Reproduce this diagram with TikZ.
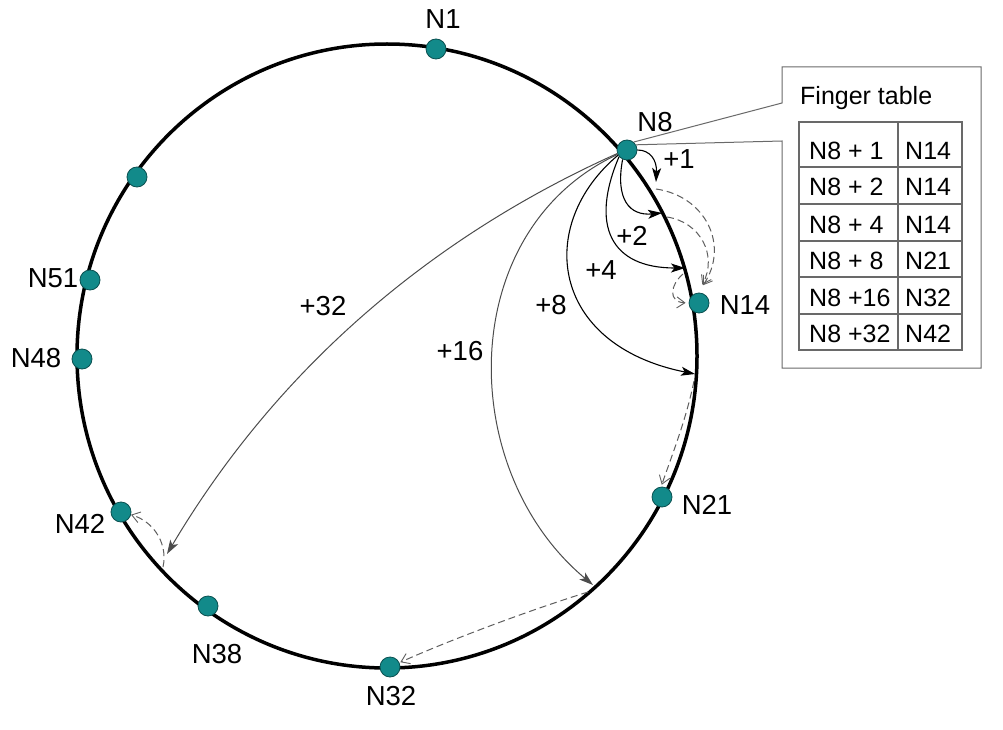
\documentclass[tikz,border=0pt]{standalone}
\usepackage{fontspec}
\setmainfont{Liberation Sans}
\usetikzlibrary{arrows.meta}
\definecolor{dotfill}{RGB}{18,138,138}
\definecolor{dotline}{RGB}{10,80,80}
\definecolor{dashgray}{RGB}{95,95,95}
\definecolor{boxgray}{RGB}{105,105,105}
\begin{document}
\begin{tikzpicture}[x=1pt,y=-1pt,
  ring/.style={line width=3.5pt},
  peer/.style={circle,fill=dotfill,draw=dotline,line width=0.8pt,minimum size=20pt,inner sep=0pt},
  lbl/.style={font=\fontsize{27.5}{30}\selectfont,inner sep=0pt},
  cell/.style={font=\fontsize{25}{28}\selectfont,inner sep=0pt,anchor=base west},
  fing/.style={line width=1.1pt,-{Stealth[length=14pt,width=9pt,inset=3.5pt]}},
  fingfar/.style={fing,draw=black!70,line width=1pt},
  succ/.style={draw=dashgray,line width=1pt,dash pattern=on 7pt off 4pt,-{Straight Barb[length=8pt,width=11pt,line width=0.9pt]}},
  callout/.style={draw=boxgray,line width=1pt},
  tbl/.style={draw=boxgray,line width=1.1pt}
]
\useasboundingbox (0,0) rectangle (1003,730);
\fill[white] (0,0) rectangle (1003,730);

% ring
\draw[ring] (387,356) ellipse [x radius=310pt, y radius=312pt];

% peers
\node[peer] (N1) at (436,49) {};
\node[peer] (N56) at (137,177) {};
\node[peer] (N51) at (90,280) {};
\node[peer] (N48) at (82,359) {};
\node[peer] (N42) at (121,512) {};
\node[peer] (N38) at (208,606) {};
\node[peer] (N32) at (390,667) {};
\node[peer] (N21) at (662,497) {};
\node[peer] (N14) at (699,303) {};
\node[peer] (N8) at (627,150) {};

% peer labels
\node[lbl] (lN1) at (443,19) {N1};
\node[lbl] (lN8) at (655,122) {N8};
\node[lbl] (lN14) at (745,305) {N14};
\node[lbl] (lN21) at (707,505) {N21};
\node[lbl] (lN32) at (391,696) {N32};
\node[lbl] (lN38) at (217,654) {N38};
\node[lbl] (lN42) at (80,524) {N42};
\node[lbl] (lN48) at (36,358) {N48};
\node[lbl] (lN51) at (53,278) {N51};

% positions on the ring
\coordinate (p1) at (656,182);
\coordinate (p2) at (662,213);
\coordinate (p4) at (685,268);
\coordinate (p8) at (695,374);
\coordinate (p16) at (593,585);
\coordinate (p32) at (167,554);
\coordinate (q1) at (656,189);
\coordinate (q2) at (667,217);
\coordinate (q4) at (683,274);
\coordinate (q8) at (694,381);
\coordinate (q16) at (588,592);
\coordinate (q32) at (163,567);

% finger arcs
\draw[fing] (N8.east) .. controls (650,150) and (657,160) .. (p1);
\draw[fing] (N8.-115) .. controls (615,200) and (630,216) .. (p2);
\draw[fing] (N8.-140) .. controls (590,225) and (610,268) .. (p4);
\draw[fing] (N8.-150) .. controls (535,225) and (550,345) .. (p8);
\draw[fingfar] (N8.-155) .. controls (455,230) and (455,470) .. (p16);
\draw[fingfar] (N8.-160) .. controls (480,215) and (300,330) .. (p32);

% finger labels
\node[lbl] (l1) at (679,159) {+1};
\node[lbl] (l2) at (632,236) {+2};
\node[lbl] (l4) at (601,270) {+4};
\node[lbl] (l8) at (551,305) {+8};
\node[lbl] (l16) at (460,351) {+16};
\node[lbl] (l32) at (323,306) {+32};

% successor (dashed) arrows
\draw[succ,shorten >=9pt] (q1) .. controls (705,196) and (730,245) .. (N14.95);
\draw[succ,shorten >=9pt] (q2) .. controls (700,222) and (718,255) .. (N14.95);
\draw[succ,shorten >=3pt] (q4) .. controls (670,285) and (668,302) .. (N14.180);
\draw[succ,shorten >=2pt] (q8) .. controls (686,420) and (672,455) .. (N21.95);
\draw[succ,shorten >=1pt] (q16) .. controls (530,610) and (450,640) .. (N32.25);
\draw[succ] (q32) .. controls (168,545) and (155,522) .. (N42.-15);

% callout box
\coordinate (b1) at (782,103);
\coordinate (b2) at (782,67);
\coordinate (b3) at (981,67);
\coordinate (b4) at (981,368);
\coordinate (b5) at (782,368);
\coordinate (b6) at (782,141);
\draw[callout] (N8.50) -- (b1) -- (b2) -- (b3) -- (b4) -- (b5) -- (b6) -- (N8.30);
\node[cell] (ft) at (800,105) {Finger table};

% table
\draw[tbl] (799,122) rectangle (962,350);
\draw[tbl] (898,122) -- (898,350);
\foreach \yy in {167,204,241,277,314} \draw[tbl] (799,\yy) -- (962,\yy);
\node[cell] (a1) at (809,160) {N8 + 1};
\node[cell] (b1t) at (905,160) {N14};
\node[cell] (a2) at (809,196) {N8 + 2};
\node[cell] (b2t) at (905,196) {N14};
\node[cell] (a3) at (809,233) {N8 + 4};
\node[cell] (b3t) at (905,233) {N14};
\node[cell] (a4) at (809,269) {N8 + 8};
\node[cell] (b4t) at (905,269) {N21};
\node[cell] (a5) at (809,306) {N8 +16};
\node[cell] (b5t) at (905,306) {N32};
\node[cell] (a6) at (809,342) {N8 +32};
\node[cell] (b6t) at (905,342) {N42};
\end{tikzpicture}
\end{document}
